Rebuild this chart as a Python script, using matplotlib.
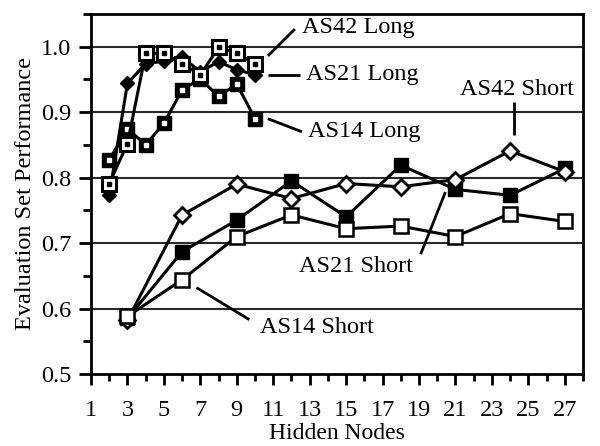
import matplotlib
matplotlib.use("Agg")
import matplotlib.pyplot as plt
from matplotlib.ticker import MultipleLocator, FormatStrFormatter

plt.rcParams['font.family'] = ['Liberation Serif', 'DejaVu Serif']

# ---- data ----
long_x = [2, 3, 4, 5, 6, 7, 8, 9, 10]
as42_long = [0.791, 0.852, 0.990, 0.990, 0.974, 0.957, 0.999, 0.990, 0.974]
as21_long = [0.773, 0.944, 0.974, 0.978, 0.984, 0.962, 0.977, 0.965, 0.957]
as14_long = [0.827, 0.875, 0.850, 0.883, 0.934, 0.951, 0.924, 0.943, 0.890]

short_x = [3, 6, 9, 12, 15, 18, 21, 24, 27]
as42_short = [0.582, 0.743, 0.790, 0.768, 0.791, 0.786, 0.797, 0.841, 0.809]
as21_short = [0.585, 0.687, 0.735, 0.795, 0.740, 0.819, 0.782, 0.773, 0.814]
as14_short = [0.588, 0.644, 0.710, 0.743, 0.722, 0.726, 0.710, 0.745, 0.733]

x_ticks = list(range(1, 28, 2))
y_ticks = [0.5, 0.6, 0.7, 0.8, 0.9, 1.0]

# annotation labels: (text, text_x, text_y, ha, line_x0, line_y0, line_x1, line_y1)
annotations = [
    ("AS42 Long", 12.6, 1.029, "left", 10.71, 0.986, 12.19, 1.027),
    ("AS21 Long", 12.8, 0.957, "left", 10.71, 0.957, 12.47, 0.957),
    ("AS14 Long", 12.9, 0.871, "left", 10.71, 0.890, 12.58, 0.870),
    ("AS42 Short", 24.37, 0.934, "center", 24.2, 0.915, 24.2, 0.865),
    ("AS21 Short", 12.4, 0.664, "left", 19.09, 0.683, 20.45, 0.778),
    ("AS14 Short", 10.3, 0.571, "left", 6.79, 0.632, 9.69, 0.583),
]

fig = plt.figure(figsize=(6.0, 4.46), dpi=100)
ax = fig.add_axes([91/600, 1 - 374/446, (583-91)/600, (374-14)/446])

lw = 2.2
# grid
for yv in y_ticks[1:]:
    ax.axhline(yv, color='#2a2a2a', lw=1.5, zorder=1)

# long series
ax.plot(long_x, as14_long, '-', color='k', lw=lw, marker='s', ms=9.5,
        mfc='k', mec='k', zorder=3)
ax.plot(long_x, as14_long, ls='none', marker='s', ms=3, mfc='white', mec='white', zorder=4)

ax.plot(long_x, as21_long, '-', color='k', lw=lw, marker='D', ms=7,
        mfc='k', mec='k', zorder=5)

ax.plot(long_x, as42_long, '-', color='k', lw=lw, marker='s', ms=9.5,
        mfc='white', mec='k', mew=2.2, zorder=6)
ax.plot(long_x, as42_long, ls='none', marker='s', ms=2.5, mfc='k', mec='k', zorder=7)

# short series
ax.plot(short_x, as21_short, '-', color='k', lw=lw, marker='s', ms=10,
        mfc='k', mec='k', zorder=3)
ax.plot(short_x, as42_short, '-', color='k', lw=lw, marker='D', ms=8,
        mfc='white', mec='k', mew=2, zorder=4)
ax.plot(short_x, as14_short, '-', color='k', lw=lw, marker='s', ms=10,
        mfc='white', mec='k', mew=1.8, zorder=5)

# annotations
for txt, tx, ty, ha, x0, y0, x1, y1 in annotations:
    ax.plot([x0, x1], [y0, y1], color='k', lw=2, zorder=8, solid_capstyle='butt')
    ax.text(tx, ty, txt, ha=ha, va='center', fontsize=17.5, zorder=9)

ax.set_xlim(1, 28)
ax.set_ylim(0.5, 1.05)
ax.set_xticks(x_ticks)
ax.xaxis.set_minor_locator(MultipleLocator(1))
ax.set_yticks(y_ticks)
ax.yaxis.set_minor_locator(MultipleLocator(0.05))
ax.yaxis.set_major_formatter(FormatStrFormatter('%.1f'))

ax.tick_params(axis='both', which='both', direction='out', color='k', width=2)
ax.tick_params(axis='y', which='major', length=9, pad=5, labelsize=17.5)
ax.tick_params(axis='y', which='minor', length=6)
ax.tick_params(axis='x', which='major', length=8, pad=11, labelsize=17.5)
ax.tick_params(axis='x', which='minor', length=5)

for s in ax.spines.values():
    s.set_linewidth(2)
    s.set_color('k')

ax.set_xlabel('Hidden Nodes', fontsize=17, labelpad=1)
ax.set_ylabel('Evaluation Set Performance', fontsize=17.5, labelpad=4)

fig.savefig('out.png', dpi=100)
